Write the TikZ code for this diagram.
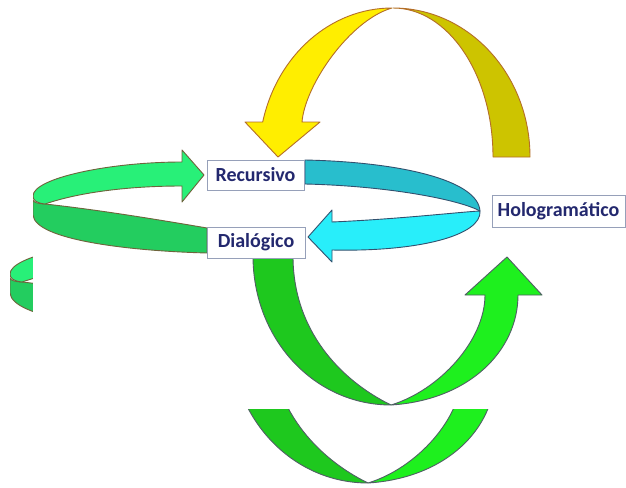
\documentclass[tikz,border=0pt]{standalone}
\usepackage{fontspec}
\setmainfont{Carlito}
\definecolor{ylwL}{RGB}{255,238,0}
\definecolor{ylwR}{RGB}{205,196,0}
\definecolor{ylwE}{RGB}{180,110,40}
\definecolor{cyU}{RGB}{40,190,205}
\definecolor{cyL}{RGB}{40,238,250}
\definecolor{cyE}{RGB}{50,80,110}
\definecolor{grU}{RGB}{40,240,120}
\definecolor{grL}{RGB}{35,205,95}
\definecolor{grE}{RGB}{110,100,60}
\definecolor{guL}{RGB}{30,200,30}
\definecolor{guR}{RGB}{30,240,30}
\definecolor{guE}{RGB}{80,95,100}
\definecolor{txt}{RGB}{35,40,110}
\definecolor{boxE}{RGB}{150,160,185}
\tikzset{
  band/.style={line width=0.9pt, line join=round},
  label/.style={draw=boxE, fill=white, line width=0.8pt, inner sep=0pt,
    font=\fontsize{20}{22}\selectfont\bfseries, text=txt}
}
\newcommand\ribbonset{%
  % yellow
  \filldraw[band, fill=ylwR, draw=ylwE] (393,8) .. controls (468.7,8) and (530,74.7) .. (530,157)
     -- (493,157) .. controls (493,74.7) and (448.2,8) .. (393,8) -- cycle;
  \filldraw[band, fill=ylwL, draw=ylwE] (392,8) .. controls (330.6,8) and (277.1,55.1) .. (262.7,122)
     -- (245,122) -- (278,157) -- (320,122) -- (302,122) .. controls (305,85) and (350,20) .. (392,8) -- cycle;
  % cyan ring
  \filldraw[band, fill=cyU, draw=cyE] (305,160) .. controls (400,162) and (478,180) .. (480,211)
     .. controls (460,200) and (390,186) .. (305,184) -- cycle;
  \filldraw[band, fill=cyL, draw=cyE] (480,211) .. controls (482,235) and (420,252) .. (332,250)
     -- (332,262) -- (308,237) -- (332,210) -- (332,222) .. controls (400,219) and (460,212) .. (480,211) -- cycle;
  % green ring
  \filldraw[band, fill=grL, draw=grE] (45,204) .. controls (100,210) and (160,220) .. (207,228)
     -- (207,253) .. controls (130,251) and (35,240) .. (33,215) -- (33,200)
     .. controls (33,202) and (38,204) .. (45,204) -- cycle;
  \filldraw[band, fill=grU, draw=grE] (182,162) .. controls (110,162) and (33,178) .. (33,196)
     .. controls (33,200) and (36,203) .. (45,204) .. controls (80,192) and (130,186) .. (182,186)
     -- (182,202) -- (204,175) -- (182,150) -- cycle;
  % green U
  \filldraw[band, fill=guL, draw=guE] (253,256) .. controls (253,339.2) and (314.3,405) .. (391,405)
     .. controls (340,380) and (293,330) .. (293,256) -- cycle;
  \filldraw[band, fill=guR, draw=guE] (391,405) .. controls (470,400) and (518,350) .. (518,295)
     -- (542,295) -- (507,257) -- (465,295) -- (485,295) .. controls (485,340) and (440,390) .. (391,405) -- cycle;
}
\begin{document}
\begin{tikzpicture}[x=1pt,y=-1pt]
  \useasboundingbox (0,0) rectangle (626,487);
  \fill[white] (0,0) rectangle (626,487);
  % shifted copy underneath
  \begin{scope}
    \clip (10,0) rectangle (626,487);
    \begin{scope}[shift={(-23,78)}]
      \ribbonset
    \end{scope}
  \end{scope}
  % main picture on its white background
  \fill[white] (33,0) rectangle (626,408.5);
  \begin{scope}
    \clip (33,0) rectangle (626,408.5);
    \ribbonset
  \end{scope}
  \node[label, minimum width=97pt, minimum height=30pt] (rec) at (255.5,175) {Recursivo};
  \node[label, minimum width=98pt, minimum height=31pt] (dia) at (256,242.5) {Dialógico};
  \node[label, minimum width=133pt, minimum height=32pt] (hol) at (558.5,211) {Hologramático};
\end{tikzpicture}
\end{document}
